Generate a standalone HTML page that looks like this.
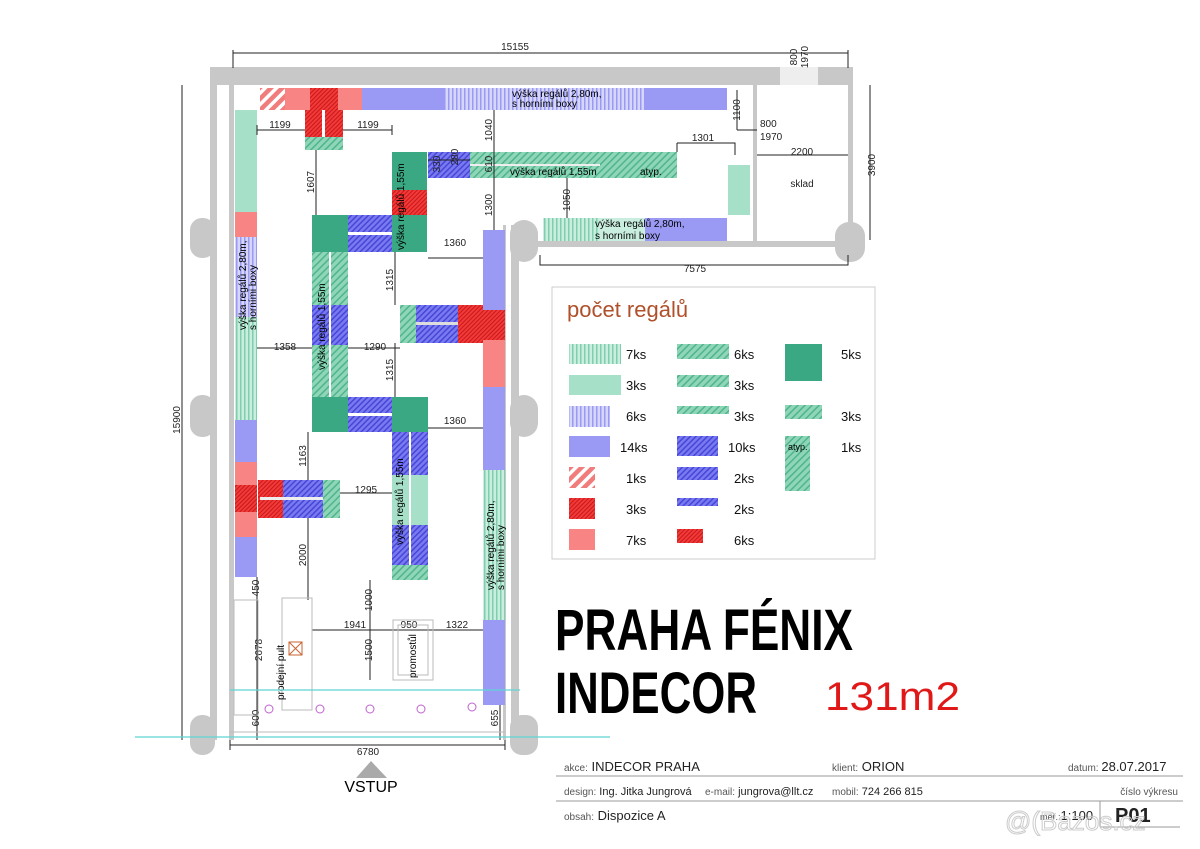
<!DOCTYPE html>
<html><head><meta charset="utf-8"><style>
html,body{margin:0;padding:0;background:#fff;}
svg{display:block;font-family:"Liberation Sans",sans-serif;}
</style></head><body>
<svg width="1200" height="849" viewBox="0 0 1200 849" xmlns="http://www.w3.org/2000/svg">
<defs>
<pattern id="vg" width="4" height="4" patternUnits="userSpaceOnUse"><rect width="4" height="4" fill="#c9eedf"/><rect width="1.5" height="4" fill="#7fcfae"/></pattern>
<pattern id="vb" width="4" height="4" patternUnits="userSpaceOnUse"><rect width="4" height="4" fill="#d6d6fb"/><rect width="1.5" height="4" fill="#9a9af5"/></pattern>
<pattern id="dg" width="5" height="5" patternUnits="userSpaceOnUse" patternTransform="rotate(45)"><rect width="5" height="5" fill="#8fd6b8"/><rect width="1.5" height="5" fill="#4fb48c"/></pattern>
<pattern id="db" width="4" height="4" patternUnits="userSpaceOnUse" patternTransform="rotate(45)"><rect width="4" height="4" fill="#7a7af0"/><rect width="1.5" height="4" fill="#4646d8"/></pattern>
<pattern id="dr" width="3" height="3" patternUnits="userSpaceOnUse" patternTransform="rotate(45)"><rect width="3" height="3" fill="#f23a3a"/><rect width="1" height="3" fill="#c81818"/></pattern>
<pattern id="pr" width="8" height="8" patternUnits="userSpaceOnUse" patternTransform="rotate(45)"><rect width="8" height="8" fill="#f17c7c"/><rect width="3.5" height="8" fill="#fff"/></pattern>
</defs>
<g fill="#c8c8c8">
<rect x="210" y="67" width="642" height="18"/>
<rect x="210" y="67" width="7" height="673"/>
<rect x="229" y="85" width="5" height="655"/>
<rect x="848" y="67" width="5" height="178"/>
<rect x="753" y="85" width="4" height="160"/>
<rect x="517" y="241" width="335" height="6"/>
<rect x="511" y="225" width="8" height="515"/>
<rect x="503" y="225" width="3" height="515"/>
<rect x="190" y="218" width="25" height="40" rx="12"/>
<rect x="190" y="395" width="25" height="42" rx="12"/>
<rect x="190" y="715" width="25" height="40" rx="12"/>
<rect x="510" y="220" width="28" height="42" rx="14"/>
<rect x="510" y="395" width="28" height="42" rx="14"/>
<rect x="510" y="715" width="28" height="40" rx="12"/>
<rect x="835" y="222" width="30" height="40" rx="14"/>
</g>
<rect x="780" y="67" width="38" height="18" fill="#eee"/>
<!-- top row -->
<rect x="260" y="88" width="25" height="22" fill="url(#pr)"/>
<rect x="285" y="88" width="25" height="22" fill="#f88484"/>
<rect x="310" y="88" width="28" height="22" fill="url(#dr)"/>
<rect x="338" y="88" width="24" height="22" fill="#f88484"/>
<rect x="362" y="88" width="82" height="22" fill="#9a9af5"/>
<rect x="444" y="88" width="201" height="22" fill="url(#vb)"/>
<rect x="645" y="88" width="82" height="22" fill="#9a9af5"/>
<text x="512" y="97" font-size="10">výška regálů 2,80m,</text>
<text x="512" y="107" font-size="10">s horními boxy</text>
<!-- left column -->
<rect x="235" y="110" width="22" height="102" fill="#a6e0c8"/>
<rect x="235" y="212" width="22" height="25" fill="#f88484"/>
<rect x="235" y="237" width="22" height="80" fill="url(#vb)"/>
<rect x="235" y="317" width="22" height="103" fill="url(#vg)"/>
<rect x="235" y="420" width="22" height="42" fill="#9a9af5"/>
<rect x="235" y="462" width="22" height="23" fill="#f88484"/>
<rect x="235" y="485" width="22" height="27" fill="url(#dr)"/>
<rect x="235" y="512" width="22" height="25" fill="#f88484"/>
<rect x="235" y="537" width="22" height="40" fill="#9a9af5"/>
<text transform="translate(246,330) rotate(-90)" font-size="10">výška regálů 2,80m,</text>
<text transform="translate(256,330) rotate(-90)" font-size="10">s horními boxy</text>
<!-- center top -->
<rect x="305" y="110" width="38" height="27" fill="url(#dr)"/>
<rect x="322" y="110" width="3" height="27" fill="#fff"/>
<rect x="305" y="137" width="38" height="13" fill="url(#dg)"/>
<rect x="392" y="152" width="35" height="38" fill="#3aa882"/>
<rect x="392" y="190" width="35" height="25" fill="url(#dr)"/>
<rect x="392" y="215" width="35" height="37" fill="#3aa882"/>
<text transform="translate(404,250) rotate(-90)" font-size="10">výška regálů 1,55m</text>
<rect x="312" y="215" width="36" height="37" fill="#3aa882"/>
<rect x="348" y="215" width="44" height="17" fill="url(#db)"/>
<rect x="348" y="235" width="44" height="17" fill="url(#db)"/>
<rect x="312" y="252" width="36" height="53" fill="url(#dg)"/>
<rect x="312" y="305" width="36" height="40" fill="url(#db)"/>
<rect x="312" y="345" width="36" height="52" fill="url(#dg)"/>
<rect x="329" y="252" width="2" height="145" fill="#fff"/>
<text transform="translate(325,370) rotate(-90)" font-size="10">výška regálů 1,55m</text>
<rect x="312" y="397" width="36" height="35" fill="#3aa882"/>
<rect x="348" y="397" width="44" height="16" fill="url(#db)"/>
<rect x="348" y="416" width="44" height="16" fill="url(#db)"/>
<rect x="392" y="397" width="36" height="35" fill="#3aa882"/>
<rect x="392" y="432" width="36" height="43" fill="url(#db)"/>
<rect x="392" y="475" width="36" height="50" fill="#a6e0c8"/>
<rect x="392" y="525" width="36" height="40" fill="url(#db)"/>
<rect x="392" y="565" width="36" height="15" fill="url(#dg)"/>
<rect x="409" y="432" width="2" height="133" fill="#fff"/>
<text transform="translate(403,545) rotate(-90)" font-size="10">výška regálů 1,55m</text>
<!-- middle right cross -->
<rect x="400" y="305" width="16" height="38" fill="url(#dg)"/>
<rect x="416" y="305" width="42" height="38" fill="url(#db)"/>
<rect x="416" y="322" width="42" height="3" fill="#ddd"/>
<rect x="458" y="305" width="25" height="38" fill="url(#dr)"/>
<!-- right column -->
<rect x="483" y="230" width="22" height="80" fill="#9a9af5"/>
<rect x="483" y="310" width="22" height="30" fill="url(#dr)"/>
<rect x="483" y="340" width="22" height="47" fill="#f88484"/>
<rect x="483" y="387" width="22" height="83" fill="#9a9af5"/>
<rect x="483" y="470" width="22" height="150" fill="url(#vg)"/>
<rect x="483" y="620" width="22" height="85" fill="#9a9af5"/>
<text transform="translate(494,590) rotate(-90)" font-size="10">výška regálů 2,80m,</text>
<text transform="translate(504,590) rotate(-90)" font-size="10">s horními boxy</text>
<!-- left mid arm -->
<rect x="258" y="480" width="25" height="38" fill="url(#dr)"/>
<rect x="283" y="480" width="40" height="38" fill="url(#db)"/>
<rect x="260" y="497" width="63" height="3" fill="#eee"/>
<rect x="323" y="480" width="17" height="38" fill="url(#dg)"/>
<!-- top right rows -->
<rect x="428" y="152" width="42" height="26" fill="url(#db)"/>
<rect x="470" y="152" width="130" height="26" fill="url(#dg)"/>
<rect x="470" y="164" width="130" height="2" fill="#eee"/>
<rect x="600" y="152" width="77" height="26" fill="url(#dg)"/>
<text x="510" y="175" font-size="10">výška regálů 1,55m</text>
<text x="640" y="175" font-size="10">atyp.</text>
<rect x="728" y="165" width="22" height="50" fill="#a6e0c8"/>
<rect x="543" y="218" width="55" height="23" fill="url(#vg)"/>
<rect x="598" y="218" width="47" height="23" fill="#c9eedf"/>
<rect x="645" y="218" width="82" height="23" fill="#9a9af5"/>
<text x="595" y="227" font-size="10">výška regálů 2,80m,</text>
<text x="595" y="239" font-size="10">s horními boxy</text>
<!-- dimensions -->
<g stroke="#222" stroke-width="1" fill="none">
<path d="M233 53H848M233 50V68M848 50V68"/>
<path d="M182 85V740"/>
<path d="M257 130H305M343 130H392M257 125V135M392 125V135"/>
<path d="M316 150V215"/>
<path d="M494 110V230"/>
<path d="M428 160H470"/>
<path d="M677 143H735V155M677 143V152"/>
<path d="M737 90V130M737 130H757"/>
<path d="M757 155H848"/>
<path d="M870 85V240"/>
<path d="M540 255V265H848V255"/>
<path d="M567 178V218"/>
<path d="M428 258H483"/>
<path d="M395 252V305"/>
<path d="M257 348H312M348 348H400"/>
<path d="M395 343V397"/>
<path d="M428 428H483"/>
<path d="M308 432V480"/>
<path d="M340 493H392"/>
<path d="M308 518V600"/>
<path d="M257 577V740"/>
<path d="M312 630H483"/>
<path d="M370 580V680"/>
<path d="M230 745H505M230 740V750M505 740V750"/>
<path d="M500 705V740"/>
</g>
<g font-size="10" fill="#222">
<text x="515" y="50" text-anchor="middle">15155</text>
<text transform="translate(180,420) rotate(-90)" text-anchor="middle">15900</text>
<text x="280" y="128" text-anchor="middle">1199</text>
<text x="368" y="128" text-anchor="middle">1199</text>
<text transform="translate(314,182) rotate(-90)" text-anchor="middle">1607</text>
<text transform="translate(492,130) rotate(-90)" text-anchor="middle">1040</text>
<text transform="translate(492,205) rotate(-90)" text-anchor="middle">1300</text>
<text transform="translate(492,164) rotate(-90)" text-anchor="middle">610</text>
<text transform="translate(440,164) rotate(-90)" text-anchor="middle">330</text>
<text transform="translate(458,157) rotate(-90)" text-anchor="middle">280</text>
<text x="703" y="141" text-anchor="middle">1301</text>
<text transform="translate(740,110) rotate(-90)" text-anchor="middle">1100</text>
<text x="760" y="127">800</text><text x="760" y="140">1970</text>
<text transform="translate(797,57) rotate(-90)" text-anchor="middle">800</text>
<text transform="translate(808,57) rotate(-90)" text-anchor="middle">1970</text>
<text x="802" y="155" text-anchor="middle">2200</text>
<text x="802" y="187" text-anchor="middle">sklad</text>
<text transform="translate(875,165) rotate(-90)" text-anchor="middle">3900</text>
<text x="695" y="272" text-anchor="middle">7575</text>
<text transform="translate(570,200) rotate(-90)" text-anchor="middle">1050</text>
<text x="455" y="246" text-anchor="middle">1360</text>
<text transform="translate(393,280) rotate(-90)" text-anchor="middle">1315</text>
<text x="285" y="350" text-anchor="middle">1358</text>
<text x="375" y="350" text-anchor="middle">1290</text>
<text transform="translate(393,370) rotate(-90)" text-anchor="middle">1315</text>
<text x="455" y="424" text-anchor="middle">1360</text>
<text transform="translate(306,456) rotate(-90)" text-anchor="middle">1163</text>
<text x="366" y="493" text-anchor="middle">1295</text>
<text transform="translate(306,555) rotate(-90)" text-anchor="middle">2000</text>
<text transform="translate(259,588) rotate(-90)" text-anchor="middle">450</text>
<text transform="translate(262,650) rotate(-90)" text-anchor="middle">2678</text>
<text x="355" y="628" text-anchor="middle">1941</text>
<text x="409" y="628" text-anchor="middle">950</text>
<text x="457" y="628" text-anchor="middle">1322</text>
<text transform="translate(372,600) rotate(-90)" text-anchor="middle">1000</text>
<text transform="translate(372,650) rotate(-90)" text-anchor="middle">1500</text>
<text transform="translate(259,718) rotate(-90)" text-anchor="middle">600</text>
<text transform="translate(498,718) rotate(-90)" text-anchor="middle">655</text>
<text x="368" y="755" text-anchor="middle">6780</text>
</g>
<!-- counter area -->
<g stroke="#bbb" fill="none">
<rect x="234" y="600" width="24" height="115"/>
<rect x="282" y="598" width="30" height="112"/>
<rect x="393" y="620" width="40" height="60"/>
<rect x="398" y="625" width="30" height="50"/>
<path d="M230 732H505M230 737H505"/>
</g>
<rect x="289" y="642" width="13" height="13" fill="none" stroke="#c86432"/>
<path d="M289 642l13 13M302 642l-13 13" stroke="#c86432"/>
<text transform="translate(284,700) rotate(-90)" font-size="10">prodejní pult</text>
<text transform="translate(416,678) rotate(-90)" font-size="10">promostůl</text>
<path d="M230 690H520M135 737H610" stroke="#5fd4d4" stroke-width="1.2"/>
<g fill="none" stroke="#c060d0"><circle cx="269" cy="709" r="4"/><circle cx="320" cy="709" r="4"/><circle cx="370" cy="709" r="4"/><circle cx="421" cy="709" r="4"/><circle cx="472" cy="707" r="4"/></g>
<polygon points="371,761 356,778 387,778" fill="#aaa"/>
<text x="371" y="792" font-size="16" text-anchor="middle">VSTUP</text>
<!-- legend -->
<rect x="552" y="287" width="323" height="272" fill="#fff" stroke="#ccc"/>
<text x="567" y="317" font-size="22" fill="#b0502a">počet regálů</text>
<rect x="569" y="344" width="52" height="20" fill="url(#vg)"/>
<rect x="569" y="375" width="52" height="20" fill="#a6e0c8"/>
<rect x="569" y="406" width="41" height="21" fill="url(#vb)"/>
<rect x="569" y="436" width="41" height="21" fill="#9a9af5"/>
<rect x="569" y="467" width="26" height="21" fill="url(#pr)"/>
<rect x="569" y="498" width="26" height="21" fill="url(#dr)"/>
<rect x="569" y="529" width="26" height="21" fill="#f88484"/>
<rect x="677" y="344" width="52" height="15" fill="url(#dg)"/>
<rect x="677" y="375" width="52" height="12" fill="url(#dg)"/>
<rect x="677" y="406" width="52" height="8" fill="url(#dg)"/>
<rect x="677" y="436" width="41" height="20" fill="url(#db)"/>
<rect x="677" y="467" width="41" height="13" fill="url(#db)"/>
<rect x="677" y="498" width="41" height="8" fill="url(#db)"/>
<rect x="677" y="529" width="26" height="14" fill="url(#dr)"/>
<rect x="785" y="344" width="37" height="37" fill="#3aa882"/>
<rect x="785" y="405" width="37" height="14" fill="url(#dg)"/>
<rect x="785" y="436" width="25" height="55" fill="url(#dg)"/>
<text x="788" y="450" font-size="9">atyp.</text>
<g font-size="13" fill="#111">
<text x="626" y="359">7ks</text><text x="626" y="390">3ks</text><text x="626" y="421">6ks</text><text x="620" y="452">14ks</text><text x="626" y="483">1ks</text><text x="626" y="514">3ks</text><text x="626" y="545">7ks</text>
<text x="734" y="359">6ks</text><text x="734" y="390">3ks</text><text x="734" y="421">3ks</text><text x="728" y="452">10ks</text><text x="734" y="483">2ks</text><text x="734" y="514">2ks</text><text x="734" y="545">6ks</text>
<text x="841" y="359">5ks</text><text x="841" y="421">3ks</text><text x="841" y="452">1ks</text>
</g>
<!-- titles -->
<text x="555" y="650" font-size="58" font-weight="bold" textLength="298" lengthAdjust="spacingAndGlyphs">PRAHA FÉNIX</text>
<text x="555" y="713" font-size="58" font-weight="bold" textLength="202" lengthAdjust="spacingAndGlyphs">INDECOR</text>
<text x="825" y="710" font-size="40" fill="#e01818" textLength="135" lengthAdjust="spacingAndGlyphs">131m2</text>
<!-- title block -->
<path d="M556 776H1183M556 801H1183M1100 801V827M1100 827H1180" stroke="#999" fill="none"/>
<g font-size="13" fill="#222">
<text x="564" y="771"><tspan font-size="10" fill="#555">akce:</tspan> INDECOR PRAHA</text>
<text x="832" y="771"><tspan font-size="10" fill="#555">klient:</tspan> ORION</text>
<text x="1068" y="771" font-size="10" fill="#555">datum: <tspan font-size="13" fill="#222">28.07.2017</tspan></text>
<text x="564" y="795" font-size="11"><tspan font-size="10" fill="#555">design:</tspan> Ing. Jitka Jungrová</text>
<text x="705" y="795" font-size="11"><tspan font-size="10" fill="#555">e-mail:</tspan> jungrova@llt.cz</text>
<text x="832" y="795" font-size="11"><tspan font-size="10" fill="#555">mobil:</tspan> 724 266 815</text>
<text x="1178" y="795" font-size="10" fill="#555" text-anchor="end">číslo výkresu</text>
<text x="564" y="820"><tspan font-size="10" fill="#555">obsah:</tspan>    Dispozice A</text>
<text x="1040" y="820" font-size="9" fill="#555">měř.:<tspan font-size="13" fill="#222">1:100</tspan></text>
<text x="1115" y="822" font-size="20" font-weight="bold">P01</text>
</g>
<text x="1005" y="830" font-size="26" fill="none" stroke="#ccc">@(Bazos.cz</text>
</svg>
</body></html>
